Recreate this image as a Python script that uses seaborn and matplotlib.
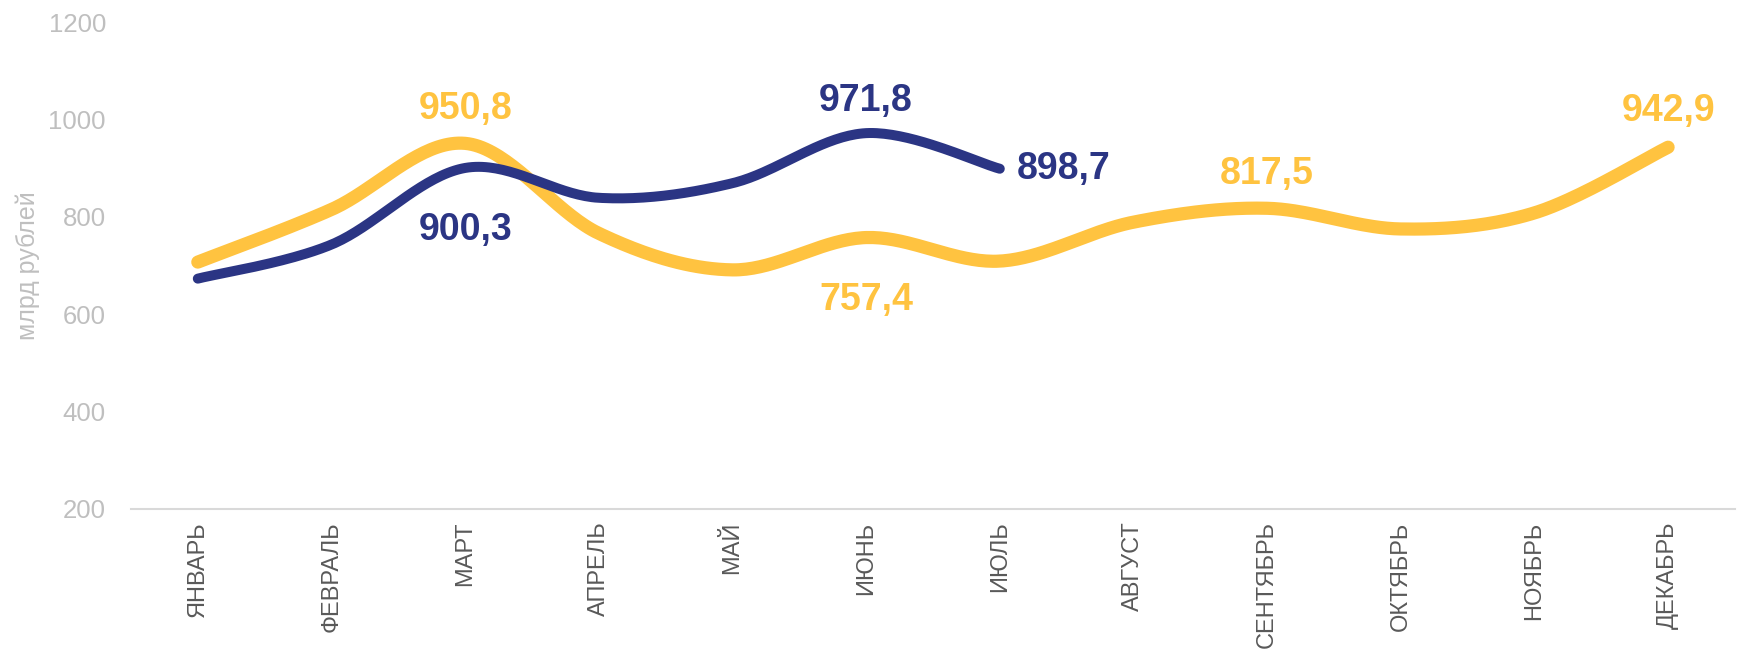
import numpy as np
import pandas as pd
import seaborn as sns
import matplotlib
import matplotlib.pyplot as plt

matplotlib.use('Agg')

# данные
months = ['ЯНВАРЬ', 'ФЕВРАЛЬ', 'МАРТ', 'АПРЕЛЬ', 'МАЙ', 'ИЮНЬ', 'ИЮЛЬ',
          'АВГУСТ', 'СЕНТЯБРЬ', 'ОКТЯБРЬ', 'НОЯБРЬ', 'ДЕКАБРЬ']
prev_year = [707, 815, 950.8, 766, 691, 757.4, 709, 789, 817.5, 775, 808, 942.9]
cur_year = [673, 743, 900.3, 839, 869, 971.8, 898.7]

YELLOW = '#FFC340'
NAVY = '#2B3584'


# сглаживание как в Excel (кривые Безье)
def smooth(xs, ys, n=40):
    p = np.column_stack([xs, ys]).astype(float)
    p = np.vstack([p[0], p, p[-1]])
    out = []
    t = np.linspace(0, 1, n)[:, None]
    for i in range(1, len(p) - 2):
        p0, p3 = p[i], p[i + 1]
        c1 = p0 + (p[i + 1] - p[i - 1]) / 6
        c2 = p3 - (p[i + 2] - p[i]) / 6
        seg = (1 - t) ** 3 * p0 + 3 * (1 - t) ** 2 * t * c1 + 3 * (1 - t) * t ** 2 * c2 + t ** 3 * p3
        out.append(seg if i == 1 else seg[1:])
    out = np.vstack(out)
    return pd.DataFrame({'x': out[:, 0], 'y': out[:, 1]})


sns.set_theme(style='white')
plt.rcParams['font.family'] = ['Liberation Sans', 'DejaVu Sans']

fig = plt.figure(figsize=(17.44, 6.57), dpi=100)
ax = fig.add_axes([0.0751, 0.2253, 0.9197, 0.7412])

df_prev = smooth(range(len(prev_year)), prev_year)
df_cur = smooth(range(len(cur_year)), cur_year)

sns.lineplot(data=df_prev, x='x', y='y', sort=False, color=YELLOW, linewidth=9.5,
             solid_capstyle='round', ax=ax)
sns.lineplot(data=df_cur, x='x', y='y', sort=False, color=NAVY, linewidth=7.2,
             solid_capstyle='round', ax=ax)

ax.set_xlim(-0.5, 11.5)
ax.set_ylim(200, 1200)
ax.set_yticks(range(200, 1201, 200))
ax.set_xticks(range(len(months)))
ax.set_xticklabels(months, rotation=90, fontsize=17, color='#595959', va='top')
ax.tick_params(axis='y', labelsize=18.5, labelcolor='#BFBFBF', length=0, pad=18)
ax.tick_params(axis='x', length=0, pad=9)
ax.set_xlabel('')
ax.set_ylabel('млрд рублей', fontsize=18, color='#BFBFBF')
ax.yaxis.set_label_coords(-0.057, 0.5)

for s in ['top', 'right', 'left']:
    ax.spines[s].set_visible(False)
ax.spines['bottom'].set_color('#D9D9D9')
ax.spines['bottom'].set_linewidth(1.5)

lab_font = dict(fontsize=27, fontweight='bold')


def fmt(v):
    return f'{v:.1f}'.replace('.', ',')


# подписи значений
ax.annotate(fmt(prev_year[2]), (2, prev_year[2]), xytext=(0, 12), textcoords='offset points',
            ha='center', va='bottom', color=YELLOW, **lab_font)
ax.annotate(fmt(cur_year[2]), (2, cur_year[2]), xytext=(0, -32), textcoords='offset points',
            ha='center', va='top', color=NAVY, **lab_font)
ax.annotate(fmt(cur_year[5]), (5, cur_year[5]), xytext=(0, 10), textcoords='offset points',
            ha='center', va='bottom', color=NAVY, **lab_font)
ax.annotate(fmt(cur_year[6]), (6, cur_year[6]), xytext=(12, 0), textcoords='offset points',
            ha='left', va='center', color=NAVY, **lab_font)
ax.annotate(fmt(prev_year[5]), (5, prev_year[5]), xytext=(0, -32), textcoords='offset points',
            ha='center', va='top', color=YELLOW, **lab_font)
ax.annotate(fmt(prev_year[8]), (8, prev_year[8]), xytext=(0, 12), textcoords='offset points',
            ha='center', va='bottom', color=YELLOW, **lab_font)
ax.annotate(fmt(prev_year[11]), (11, prev_year[11]), xytext=(0, 13), textcoords='offset points',
            ha='center', va='bottom', color=YELLOW, **lab_font)

fig.savefig('out.png', dpi=100)
